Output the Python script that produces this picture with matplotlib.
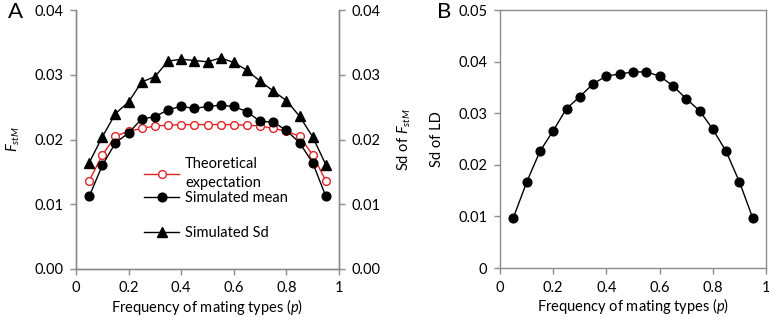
import matplotlib
matplotlib.use("Agg")
import matplotlib.pyplot as plt
from matplotlib.lines import Line2D

plt.rcParams['font.family'] = ['Lato', 'DejaVu Sans']
plt.rcParams['mathtext.fontset'] = 'custom'
plt.rcParams['mathtext.it'] = 'Lato:italic'
plt.rcParams['mathtext.rm'] = 'Lato'

p = [0.05, 0.10, 0.15, 0.20, 0.25, 0.30, 0.35, 0.40, 0.45, 0.50,
     0.55, 0.60, 0.65, 0.70, 0.75, 0.80, 0.85, 0.90, 0.95]

theory = [0.0136, 0.0176, 0.0205, 0.0213, 0.0217, 0.0221, 0.0222, 0.0223, 0.0223, 0.0223,
          0.0223, 0.0223, 0.0222, 0.0221, 0.0217, 0.0213, 0.0205, 0.0176, 0.0136]
sim_mean = [0.0112, 0.0160, 0.0195, 0.0210, 0.0232, 0.0235, 0.0246, 0.0251, 0.0248, 0.0251,
            0.0253, 0.0251, 0.0243, 0.0228, 0.0227, 0.0214, 0.0195, 0.0164, 0.0112]
sim_sd = [0.0164, 0.0204, 0.0240, 0.0258, 0.0289, 0.0297, 0.0321, 0.0324, 0.0322, 0.0320,
          0.0326, 0.0319, 0.0307, 0.0290, 0.0275, 0.0260, 0.0236, 0.0204, 0.0161]
ld_sd = [0.0097, 0.0166, 0.0226, 0.0266, 0.0309, 0.0332, 0.0357, 0.0372, 0.0376, 0.0380,
         0.0380, 0.0372, 0.0353, 0.0328, 0.0305, 0.0269, 0.0226, 0.0167, 0.0097]

x_ticks = [0, 0.2, 0.4, 0.6, 0.8, 1]
x_ticklabels = ['0', '0.2', '0.4', '0.6', '0.8', '1']
yA_ticks = [0.00, 0.01, 0.02, 0.03, 0.04]
yA_ticklabels = ['0.00', '0.01', '0.02', '0.03', '0.04']
yB_ticks = [0, 0.01, 0.02, 0.03, 0.04, 0.05]
yB_ticklabels = ['0', '0.01', '0.02', '0.03', '0.04', '0.05']

W, H = 769, 317
fig = plt.figure(figsize=(W / 100, H / 100), dpi=100)

spine_col = '#8c8c8c'
fs = 10.5
red = '#e02424'
ms_c = 6.3
ms_t = 6.8
ms_o = 5.6

def style(ax):
    for s in ax.spines.values():
        s.set_color(spine_col)
        s.set_linewidth(1.0)
    ax.tick_params(direction='out', length=4, width=1.0, color=spine_col,
                   labelsize=fs, labelcolor='black', pad=5)

# Panel A
axA = fig.add_axes([76 / W, (H - 269) / H, 263 / W, 259 / H])
axA.plot(p, theory, color=red, lw=1.0, marker='o', ms=ms_o, mfc='white', mec=red, mew=1.0)
axA.plot(p, sim_mean, color='black', lw=1.0, marker='o', ms=ms_c, mfc='black', mec='black')
axA.plot(p, sim_sd, color='black', lw=1.0, marker='^', ms=ms_t, mfc='black', mec='black')
axA.set_xlim(0, 1)
axA.set_ylim(0, 0.04)
axA.set_xticks(x_ticks)
axA.set_xticklabels(x_ticklabels)
axA.set_yticks(yA_ticks)
axA.set_yticklabels(yA_ticklabels)
axA.spines['top'].set_visible(False)
style(axA)
axA.set_xlabel('Frequency of mating types ($p$)', fontsize=fs, labelpad=1)
axA.set_ylabel('$F_{stM}$', fontsize=fs, labelpad=9)

axA2 = axA.twinx()
axA2.set_ylim(0, 0.04)
axA2.set_yticks(yA_ticks)
axA2.set_yticklabels(yA_ticklabels)
axA2.spines['top'].set_visible(False)
style(axA2)
axA2.set_ylabel('Sd of $F_{stM}$', fontsize=fs, labelpad=11)

h_theory = Line2D([], [], color=red, lw=1.0, marker='o', ms=ms_o, mfc='white', mec=red)
h_mean = Line2D([], [], color='black', lw=1.0, marker='o', ms=ms_c, mfc='black')
h_sd = Line2D([], [], color='black', lw=1.0, marker='^', ms=ms_t, mfc='black')

leg_kw = dict(frameon=False, fontsize=fs, handlelength=2.4, handletextpad=0.4,
              borderaxespad=0, borderpad=0)
leg1 = axA.legend([h_theory, h_mean], ['Theoretical\nexpectation', 'Simulated mean'],
                  loc='upper left', bbox_to_anchor=(0.26, 0.433), labelspacing=0.1, **leg_kw)
for t in leg1.get_texts():
    t.set_linespacing(1.45)
axA.add_artist(leg1)
axA.legend([h_sd], ['Simulated Sd'], loc='center left', bbox_to_anchor=(0.26, 0.139), **leg_kw)

fig.text(8 / W, 1 - 12 / H, 'A', fontsize=16, va='center', ha='left')

# Panel B
axB = fig.add_axes([500 / W, (H - 268) / H, 266 / W, 258 / H])
axB.plot(p, ld_sd, color='black', lw=1.0, marker='o', ms=ms_c, mfc='black', mec='black')
axB.set_xlim(0, 1)
axB.set_ylim(0, 0.05)
axB.set_xticks(x_ticks)
axB.set_xticklabels(x_ticklabels)
axB.set_yticks(yB_ticks)
axB.set_yticklabels(yB_ticklabels)
style(axB)
axB.tick_params(axis='y', right=False)
axB.set_xlabel('Frequency of mating types ($p$)', fontsize=fs, labelpad=1)
axB.set_ylabel('Sd of LD', fontsize=fs, labelpad=10)

fig.text(437 / W, 1 - 12 / H, 'B', fontsize=16, va='center', ha='left')

fig.savefig('out.png', dpi=100)
